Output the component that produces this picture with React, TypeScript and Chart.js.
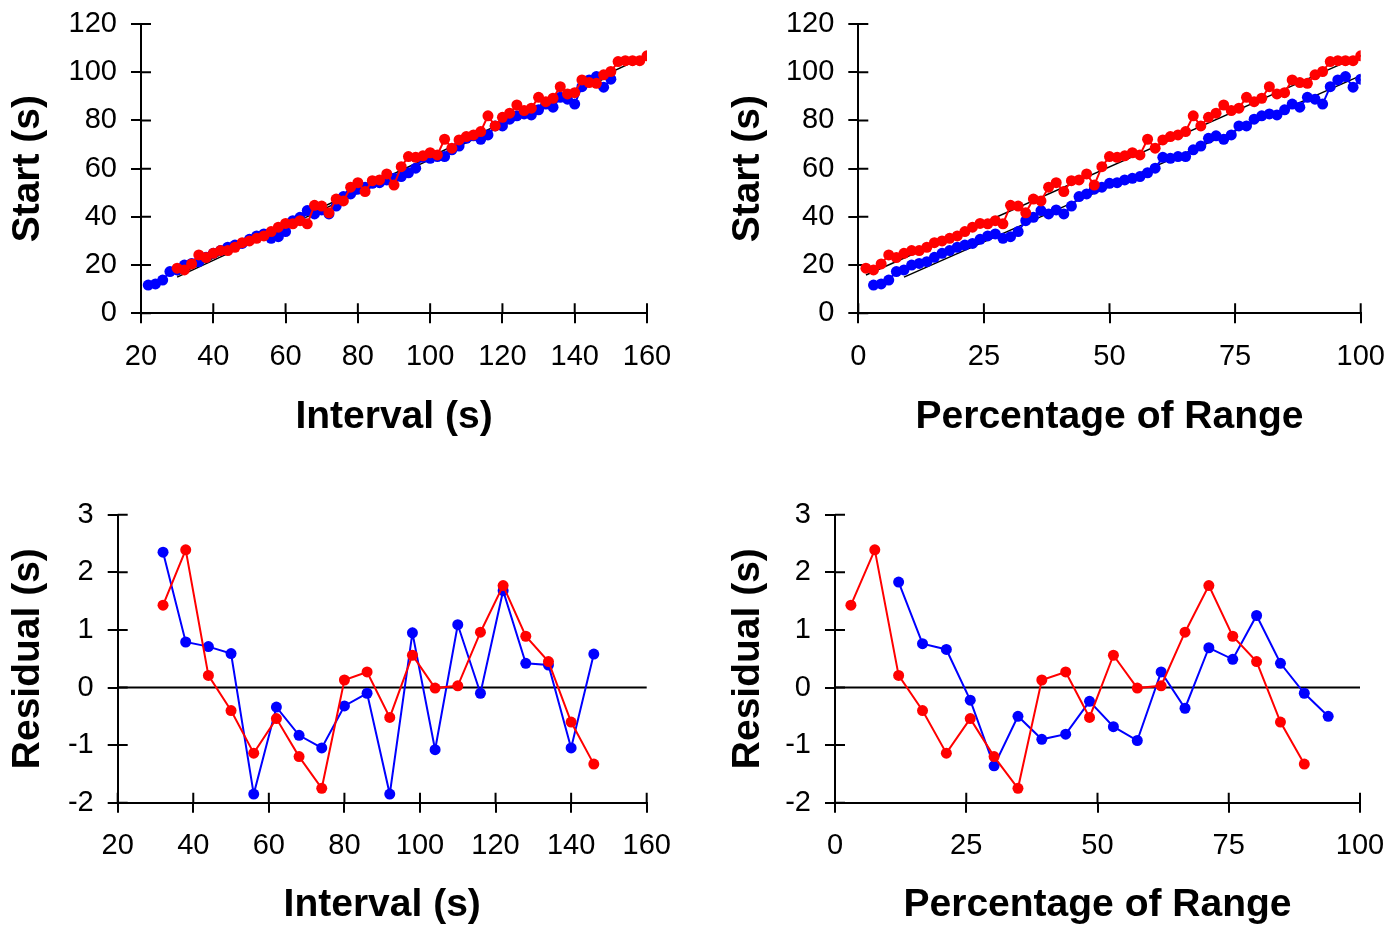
import React, { useEffect, useRef } from "react";
import { Chart, registerables } from "chart.js";

Chart.register(...registerables);

// ---------- data ----------
const intervalRed = [30, 32, 34, 36, 38, 40, 42, 44, 46, 48, 50, 52, 54, 56, 58, 60, 62, 64, 66, 68, 70, 72, 74, 76, 78, 80, 82, 84, 86, 88, 90, 92, 94, 96, 98, 100, 102, 104, 106, 108, 110, 112, 114, 116, 118, 120, 122, 124, 126, 128, 130, 132, 134, 136, 138, 140, 142, 144, 146, 148, 150, 152, 154, 156, 158, 160];
const intervalBlue = [22, 24, 26, 28, 30, 32, 34, 36, 38, 40, 42, 44, 46, 48, 50, 52, 54, 56, 58, 60, 62, 64, 66, 68, 70, 72, 74, 76, 78, 80, 82, 84, 86, 88, 90, 92, 94, 96, 98, 100, 102, 104, 106, 108, 110, 112, 114, 116, 118, 120, 122, 124, 126, 128, 130, 132, 134, 136, 138, 140, 142, 144, 146, 148, 150];
const pctRed = [1.52, 3.03, 4.55, 6.06, 7.58, 9.09, 10.61, 12.12, 13.64, 15.15, 16.67, 18.18, 19.7, 21.21, 22.73, 24.24, 25.76, 27.27, 28.79, 30.3, 31.82, 33.33, 34.85, 36.36, 37.88, 39.39, 40.91, 42.42, 43.94, 45.45, 46.97, 48.48, 50.0, 51.52, 53.03, 54.55, 56.06, 57.58, 59.09, 60.61, 62.12, 63.64, 65.15, 66.67, 68.18, 69.7, 71.21, 72.73, 74.24, 75.76, 77.27, 78.79, 80.3, 81.82, 83.33, 84.85, 86.36, 87.88, 89.39, 90.91, 92.42, 93.94, 95.45, 96.97, 98.48, 100.0];
const pctBlue = [3.03, 4.55, 6.06, 7.58, 9.09, 10.61, 12.12, 13.64, 15.15, 16.67, 18.18, 19.7, 21.21, 22.73, 24.24, 25.76, 27.27, 28.79, 30.3, 31.82, 33.33, 34.85, 36.36, 37.88, 39.39, 40.91, 42.42, 43.94, 45.45, 46.97, 48.48, 50.0, 51.52, 53.03, 54.55, 56.06, 57.58, 59.09, 60.61, 62.12, 63.64, 65.15, 66.67, 68.18, 69.7, 71.21, 72.73, 74.24, 75.76, 77.27, 78.79, 80.3, 81.82, 83.33, 84.85, 86.36, 87.88, 89.39, 90.91, 92.42, 93.94, 95.45, 96.97, 98.48, 100.0];
const startRed = [18.7, 18.0, 20.5, 24.2, 23.1, 24.9, 26.0, 26.0, 27.4, 29.3, 30.0, 31.1, 32.1, 33.9, 35.7, 37.3, 37.1, 38.4, 37.1, 44.8, 44.5, 41.7, 47.4, 46.6, 52.3, 54.2, 50.5, 55.0, 55.3, 57.8, 53.2, 60.8, 65.0, 64.7, 65.3, 66.6, 65.7, 72.2, 68.5, 71.9, 73.3, 74.0, 75.4, 81.9, 77.7, 81.3, 83.0, 86.4, 84.1, 85.1, 89.6, 87.8, 89.2, 94.0, 91.0, 91.5, 96.8, 95.7, 95.4, 98.9, 100.3, 104.4, 104.8, 104.8, 104.8, 106.8];
const startBlue = [11.7, 12.2, 13.8, 17.3, 18.0, 20.0, 20.7, 21.4, 23.2, 24.9, 26.0, 27.4, 28.3, 29.0, 30.7, 32.1, 32.9, 31.1, 31.8, 33.9, 38.4, 39.8, 42.6, 41.2, 42.9, 41.2, 44.5, 48.4, 49.5, 51.5, 52.3, 53.9, 54.2, 55.3, 56.0, 56.7, 58.3, 60.2, 64.7, 64.3, 65.0, 65.0, 67.8, 69.4, 72.6, 73.6, 72.2, 74.0, 77.7, 77.7, 80.5, 81.9, 82.7, 82.3, 84.4, 86.8, 85.5, 89.6, 88.8, 86.8, 94.0, 96.8, 98.2, 93.8, 97.1];

const fitIntervalRed = [30, 160];
const fitStartRed = [15.9, 107.0];
const fitIntervalBlue = [30, 150];
const fitStartBlue = [15.0, 98.6];
const fitPctRed = [1.52, 100];
const fitPctBlue = [9.09, 100];

const residInterval = [32, 38, 44, 50, 56, 62, 68, 74, 80, 86, 92, 98, 104, 110, 116, 122, 128, 134, 140, 146];
const residBlue = [2.35, 0.79, 0.71, 0.59, -1.85, -0.34, -0.83, -1.05, -0.32, -0.1, -1.85, 0.95, -1.08, 1.09, -0.1, 1.68, 0.42, 0.39, -1.05, 0.58];
const residRed = [1.43, 2.39, 0.21, -0.4, -1.14, -0.54, -1.2, -1.75, 0.13, 0.27, -0.52, 0.56, -0.01, 0.03, 0.96, 1.77, 0.89, 0.45, -0.6, -1.33];
const residPctRed = [3.03, 7.58, 12.12, 16.67, 21.21, 25.76, 30.3, 34.85, 39.39, 43.94, 48.48, 53.03, 57.58, 62.12, 66.67, 71.21, 75.76, 80.3, 84.85, 89.39];
const residPctBlue = [12.12, 16.67, 21.21, 25.76, 30.3, 34.85, 39.39, 43.94, 48.48, 53.03, 57.58, 62.12, 66.67, 71.21, 75.76, 80.3, 84.85, 89.39, 93.94];
const residPctBlueValues = [1.83, 0.76, 0.66, -0.22, -1.36, -0.5, -0.9, -0.81, -0.24, -0.68, -0.92, 0.27, -0.36, 0.69, 0.49, 1.25, 0.42, -0.1, -0.5];

const FONT = "'Liberation Sans', Arial, Helvetica, sans-serif";
const RED = "#ff0000";
const BLUE = "#0000ff";

const zip = (xs: number[], ys: number[]) => xs.map((x, i) => ({ x, y: ys[i] }));

const series = (xs: number[], ys: number[], color: string, order: number) => ({
  data: zip(xs, ys),
  showLine: true,
  borderColor: color,
  backgroundColor: color,
  pointBackgroundColor: color,
  pointBorderColor: color,
  pointBorderWidth: 0,
  pointRadius: 5.5,
  borderWidth: 2,
  order,
});

const fitLine = (xs: number[], ys: number[]) => ({
  data: zip(xs, ys),
  showLine: true,
  borderColor: "#000",
  backgroundColor: "#000",
  pointRadius: 0,
  borderWidth: 1.5,
  order: 5,
});

const innerTicks = {
  id: "innerTicks",
  beforeDatasetsDraw(chart: any, _args: any, opts: any) {
    const { ctx, chartArea } = chart;
    const xs = chart.scales.x;
    const ys = chart.scales.y;
    ctx.save();
    ctx.strokeStyle = "#000";
    ctx.lineWidth = 2;
    ctx.beginPath();
    xs.ticks.forEach((t: any) => {
      const px = xs.getPixelForValue(t.value);
      ctx.moveTo(px, chartArea.bottom);
      ctx.lineTo(px, chartArea.bottom - 10);
    });
    ys.ticks.forEach((t: any) => {
      const py = ys.getPixelForValue(t.value);
      ctx.moveTo(chartArea.left, py);
      ctx.lineTo(chartArea.left + 10, py);
    });
    ctx.stroke();
    if (opts && opts.zeroLine) {
      const py = ys.getPixelForValue(0);
      ctx.beginPath();
      ctx.moveTo(chartArea.left, py);
      ctx.lineTo(chartArea.right, py);
      ctx.stroke();
    }
    ctx.restore();
  },
};

type PanelProps = {
  left: number;
  top: number;
  width: number;
  height: number;
  padTop: number;
  padRight: number;
  yWidth: number;
  xHeight: number;
  xMin: number;
  xMax: number;
  xStep: number;
  yMin: number;
  yMax: number;
  yStep: number;
  xTitle: string;
  yTitle: string;
  xTitlePad: number;
  yTitlePad: number;
  zeroLine: boolean;
  datasets: any[];
};

function Panel(p: PanelProps) {
  const ref = useRef<HTMLCanvasElement | null>(null);
  useEffect(() => {
    if (!ref.current) return;
    const tickFont = { family: FONT, size: 29 };
    const titleFont = { family: FONT, size: 39, weight: "bold" as const };
    const grid = {
      display: true,
      drawOnChartArea: false,
      drawTicks: true,
      tickLength: 10,
      color: "#000",
      lineWidth: 2,
    };
    const border = { display: true, color: "#000", width: 2 };
    const chart = new Chart(ref.current, {
      type: "scatter",
      data: { datasets: p.datasets },
      options: {
        responsive: false,
        devicePixelRatio: 1,
        animation: false,
        events: [],
        layout: { padding: { left: 0, top: p.padTop, right: p.padRight, bottom: 0 } },
        plugins: {
          legend: { display: false },
          tooltip: { enabled: false },
          innerTicks: { zeroLine: p.zeroLine },
        } as any,
        scales: {
          x: {
            type: "linear",
            min: p.xMin,
            max: p.xMax,
            grid,
            border,
            ticks: {
              stepSize: p.xStep,
              color: "#000",
              font: tickFont,
              padding: 16,
              maxRotation: 0,
              autoSkip: false,
            },
            title: {
              display: true,
              text: p.xTitle,
              color: "#000",
              font: titleFont,
              padding: { top: 0, bottom: p.xTitlePad },
            },
            afterFit: (s: any) => {
              s.height = p.xHeight;
              s.paddingLeft = 0;
              s.paddingRight = 0;
            },
          },
          y: {
            type: "linear",
            min: p.yMin,
            max: p.yMax,
            grid,
            border,
            ticks: {
              stepSize: p.yStep,
              color: "#000",
              font: tickFont,
              padding: 14,
              autoSkip: false,
            },
            title: {
              display: true,
              text: p.yTitle,
              color: "#000",
              font: titleFont,
              padding: { top: p.yTitlePad, bottom: 0 },
            },
            afterFit: (s: any) => {
              s.width = p.yWidth;
              s.paddingTop = 0;
              s.paddingBottom = 0;
            },
          },
        },
      },
      plugins: [innerTicks],
    } as any);
    return () => chart.destroy();
  }, []);
  return (
    <canvas
      ref={ref}
      width={p.width}
      height={p.height}
      style={{ position: "absolute", left: p.left, top: p.top, width: p.width, height: p.height, display: "block" }}
    />
  );
}

export default function App() {
  return (
    <div style={{ position: "absolute", left: 0, top: 0, width: 1400, height: 929, background: "#fff", overflow: "hidden" }}>
      <Panel
        left={0} top={0} width={700} height={465}
        padTop={24} padRight={53} yWidth={141} xHeight={151.7}
        xMin={20} xMax={160} xStep={20} yMin={0} yMax={120} yStep={20}
        xTitle="Interval (s)" yTitle="Start (s)" xTitlePad={24.6} yTitlePad={5.1}
        zeroLine={false}
        datasets={[
          series(intervalRed, startRed, RED, 0),
          series(intervalBlue, startBlue, BLUE, 1),
          fitLine(fitIntervalRed, fitStartRed),
          fitLine(fitIntervalBlue, fitStartBlue),
        ]}
      />
      <Panel
        left={700} top={0} width={700} height={465}
        padTop={24} padRight={39.3} yWidth={158.3} xHeight={151.7}
        xMin={0} xMax={100} xStep={25} yMin={0} yMax={120} yStep={20}
        xTitle="Percentage of Range" yTitle="Start (s)" xTitlePad={24.6} yTitlePad={24.6}
        zeroLine={false}
        datasets={[
          series(pctRed, startRed, RED, 0),
          series(pctBlue, startBlue, BLUE, 1),
          fitLine(fitPctRed, fitStartRed),
          fitLine(fitPctBlue, fitStartBlue),
        ]}
      />
      <Panel
        left={0} top={465} width={700} height={464}
        padTop={49.7} padRight={53.3} yWidth={117.7} xHeight={126.3}
        xMin={20} xMax={160} xStep={20} yMin={-2} yMax={3} yStep={1}
        xTitle="Interval (s)" yTitle="Residual (s)" xTitlePad={0} yTitlePad={5.1}
        zeroLine={true}
        datasets={[
          series(residInterval, residRed, RED, 0),
          series(residInterval, residBlue, BLUE, 1),
        ]}
      />
      <Panel
        left={700} top={465} width={700} height={464}
        padTop={49.7} padRight={40} yWidth={135} xHeight={126.3}
        xMin={0} xMax={100} xStep={25} yMin={-2} yMax={3} yStep={1}
        xTitle="Percentage of Range" yTitle="Residual (s)" xTitlePad={0} yTitlePad={24.6}
        zeroLine={true}
        datasets={[
          series(residPctRed, residRed, RED, 0),
          series(residPctBlue, residPctBlueValues, BLUE, 1),
        ]}
      />
    </div>
  );
}
